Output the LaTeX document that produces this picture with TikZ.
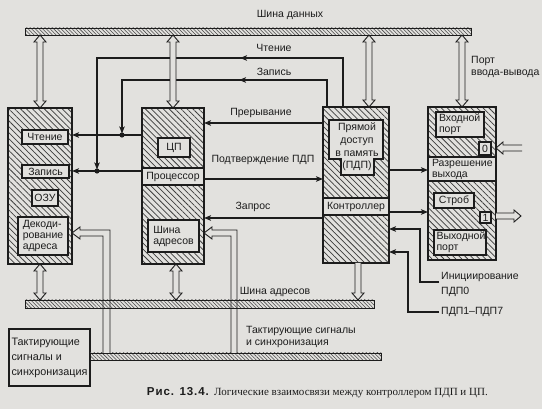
\documentclass[tikz,border=0pt]{standalone}
\usepackage{fontspec}
\setmainfont{Liberation Sans}
\newfontfamily\capserif{Liberation Serif}
\usetikzlibrary{arrows.meta,patterns.meta,calc,decorations.markings}
\definecolor{paper}{RGB}{226,225,222}
\definecolor{ink}{RGB}{28,28,28}
\newcommand\arwHW{6pt}
\newcommand\arwHL{7pt}
\newcommand\arwSW{3pt}
% double-headed vertical hollow arrow: #1 lower end, #2 upper end
\newcommand\hollowVV[2]{\filldraw[hollow] let \p1=(#1), \p2=(#2) in
  (\x1,\y2) -- (\x1+\arwHW,\y2-\arwHL) -- (\x1+\arwSW,\y2-\arwHL) -- (\x1+\arwSW,\y1+\arwHL)
  -- (\x1+\arwHW,\y1+\arwHL) -- (\x1,\y1) -- (\x1-\arwHW,\y1+\arwHL) -- (\x1-\arwSW,\y1+\arwHL)
  -- (\x1-\arwSW,\y2-\arwHL) -- (\x1-\arwHW,\y2-\arwHL) -- cycle;}
% single hollow arrow pointing down: #1 tail (upper), #2 tip (lower)
\newcommand\hollowDown[2]{\filldraw[hollow] let \p1=(#1), \p2=(#2) in
  (\x1-\arwSW,\y1) -- (\x1-\arwSW,\y2+\arwHL) -- (\x1-\arwHW,\y2+\arwHL) -- (\x1,\y2)
  -- (\x1+\arwHW,\y2+\arwHL) -- (\x1+\arwSW,\y2+\arwHL) -- (\x1+\arwSW,\y1);}
% single hollow arrow pointing left: #1 tail (right), #2 tip (left)
\newcommand\hollowLeft[2]{\filldraw[hollow] let \p1=(#1), \p2=(#2) in
  (\x1,\y1+\arwSW) -- (\x2+\arwHL,\y1+\arwSW) -- (\x2+\arwHL,\y1+\arwHW) -- (\x2,\y1)
  -- (\x2+\arwHL,\y1-\arwHW) -- (\x2+\arwHL,\y1-\arwSW) -- (\x1,\y1-\arwSW);}
% single hollow arrow pointing right: #1 tail (left), #2 tip (right)
\newcommand\hollowRight[2]{\filldraw[hollow] let \p1=(#1), \p2=(#2) in
  (\x1,\y1+\arwSW) -- (\x2-\arwHL,\y1+\arwSW) -- (\x2-\arwHL,\y1+\arwHW) -- (\x2,\y1)
  -- (\x2-\arwHL,\y1-\arwHW) -- (\x2-\arwHL,\y1-\arwSW) -- (\x1,\y1-\arwSW);}

\begin{document}
\begin{tikzpicture}[x=1pt,y=-1pt,
  lbl/.style={font=\fontsize{10.5}{12}\selectfont, text=ink, inner sep=0pt},
  blockarea/.style={anchor=north west, inner sep=0pt, outer sep=0pt,
    pattern={Lines[angle=-45,distance=4.2pt,line width=0.75pt]}, pattern color=ink!85},
  border/.style={draw=ink, line width=2.3pt},
  ibox/.style={anchor=north west, draw=ink, fill=paper, line width=1.1pt, inner sep=0pt,
    outer sep=0pt, font=\fontsize{10.5}{11}\selectfont, text=ink},
  bus/.style={anchor=north west, draw=ink, line width=0.9pt, inner sep=0pt, outer sep=0pt,
    pattern={Lines[angle=-45,distance=2.6pt,line width=0.55pt]}, pattern color=ink!80},
  conn/.style={draw=ink, line width=1.1pt},
  arr/.style={-{Stealth[length=7pt,width=5.5pt,inset=1.5pt]}},
  hollow/.style={draw=ink, fill=paper, line width=0.9pt, line join=miter},
  midarrow/.style={postaction={decorate}, decoration={markings,
    mark=at position #1 with {\arrow{Stealth[length=7pt,width=5.5pt,inset=1.5pt]}}}},
]
\path[use as bounding box, fill=paper] (0,0) rectangle (542,409);

% ---------- blocks (hatched areas) ----------
\node[blockarea, minimum width=64pt, minimum height=156pt] (mem) at (8,108) {};
\node[blockarea, minimum width=62pt, minimum height=156pt] (cpu) at (142,108) {};
\node[blockarea, minimum width=66pt, minimum height=156pt] (dma) at (323,107) {};
\node[blockarea, minimum width=68pt, minimum height=153pt] (io) at (428,107) {};

% memory contents
\node[ibox, minimum width=46pt, minimum height=14pt] (memRd) at (22,130) {Чтение};
\node[ibox, minimum width=47pt, minimum height=13pt] (memWr) at (22,165) {Запись};
\node[ibox, minimum width=26pt, minimum height=16pt] (ram) at (32,190) {ОЗУ};
\node[ibox, minimum width=50pt, minimum height=38pt, align=left] (dec) at (18,217) {Декоди-\\рование\\адреса};

% CPU contents
\node[ibox, minimum width=32pt, minimum height=19pt] (cp) at (158,138) {ЦП};
\node[ibox, minimum width=62pt, minimum height=17pt] (proc) at (142,168) {Процессор};
\node[ibox, minimum width=51pt, minimum height=32pt, align=left] (cpuAddr) at (148,220) {Шина\\адресов};

% DMA contents
\filldraw[draw=ink, fill=paper, line width=1.1pt] (329,120) -- (383,120) -- (383,159) -- (374,159)
  -- (374,175) -- (341,175) -- (341,159) -- (329,159) -- cycle;
\node[lbl, align=center, font=\fontsize{10.5}{12.7}\selectfont] (pdp) at (357,147) {Прямой\\доступ\\в память\\(ПДП)};
\node[ibox, minimum width=66pt, minimum height=17pt] (ctrl) at (323,198) {Контроллер};

% I/O port contents
\node[ibox, minimum width=48pt, minimum height=25pt, align=left, text width=42pt] (inPort) at (436,112) {Входной\\порт};
\node[ibox, minimum width=12pt, minimum height=13pt] (p0) at (479,142) {0};
\node[ibox, minimum width=68pt, minimum height=24pt, align=left, text width=60pt] (oe) at (428,157) {Разрешение\\выхода};
\node[ibox, minimum width=40pt, minimum height=15pt] (strobe) at (434,193) {Строб};
\node[ibox, minimum width=11pt, minimum height=11pt] (p1) at (480,212) {1};
\node[ibox, minimum width=52pt, minimum height=25pt, align=left, text width=47pt] (outPort) at (434,230) {Выходной\\порт};

% block borders
\draw[border] (mem.north west) rectangle (mem.south east);
\draw[border] (cpu.north west) rectangle (cpu.south east);
\draw[border] (dma.north west) rectangle (dma.south east);
\draw[border] (io.north west) rectangle (io.south east);

% clock generator
\node[anchor=north west, draw=ink, line width=2.3pt, fill=paper, minimum width=81pt,
  minimum height=57pt, inner sep=0pt, outer sep=0pt, align=left,
  font=\fontsize{10.8}{15}\selectfont, text=ink] (clk) at (9,329) {Тактирующие\\сигналы и\\синхронизация};

% ---------- labels ----------
\node[lbl] (lData) at (290,15) {Шина данных};
\node[lbl, align=left, anchor=west] (lPort) at (471,67) {Порт\\ввода-вывода};
\node[lbl] (lRd) at (274,48) {Чтение};
\node[lbl] (lWr) at (274,72) {Запись};
\node[lbl] (lInt) at (261,113) {Прерывание};
\node[lbl] (lAck) at (263,160) {Подтверждение ПДП};
\node[lbl] (lReq) at (253,207) {Запрос};
\node[lbl] (lAddr) at (275,292) {Шина адресов};
\node[lbl, align=left, anchor=west] (lClk) at (246,337) {Тактирующие сигналы\\и синхронизация};
\node[lbl, align=left, anchor=west, font=\fontsize{10.5}{14.5}\selectfont] (lIni) at (441,284.5) {Инициирование\\ПДП0};
\node[lbl, anchor=west] (lPdp) at (441,312) {ПДП1–ПДП7};

% ---------- control connectors ----------
\coordinate (dotW) at (97,171);
\coordinate (dotR) at (122,135);
\coordinate (rdUp) at (343,107);
\coordinate (wrUp) at (327,107);
\draw[conn, arr, shorten >=1.5pt, midarrow=152pt] (rdUp) |- (dotW |- 0,58) -- (dotW);
\draw[conn, arr, shorten >=1.5pt, midarrow=115pt] (wrUp) |- (dotR |- 0,80) -- (dotR);
\draw[conn, arr] (cpu.west |- dotR) -- (mem.east |- dotR);
\draw[conn, arr] (cpu.west |- dotW) -- (mem.east |- dotW);
\fill[ink] (dotW) circle (2.6pt);
\fill[ink] (dotR) circle (2.6pt);

\draw[conn, arr] (dma.west |- 0,123) -- (cpu.east |- 0,123);
\draw[conn, arr] (cpu.east |- 0,179) -- (dma.west |- 0,179);
\draw[conn, arr] (dma.west |- 0,218) -- (cpu.east |- 0,218);
\draw[conn, arr] (dma.east |- 0,170) -- (io.west |- 0,170);
\draw[conn, arr] (dma.east |- 0,212) -- (io.west |- 0,212);

\coordinate (iniEnd) at (439,282);
\coordinate (iniBend) at (420,229);
\coordinate (pdpEnd) at (439,312);
\coordinate (pdpBend) at (408,252);
\draw[conn, arr] (iniEnd) -| (iniBend) -- (dma.east |- iniBend);
\draw[conn, arr] (pdpEnd) -| (pdpBend) -- (dma.east |- pdpBend);

% clock lines into decoder and CPU address bus (hollow elbows)
\node[bus, minimum width=291pt, minimum height=7pt] (cbus) at (90,353) {};
\filldraw[hollow] (cbus.north -| 110,0) -- (110,230) -- (80,230) -- (80,227) -- (mem.east |- 0,233)
  -- (80,239) -- (80,236) -- (103,236) -- (cbus.north -| 103,0);
\filldraw[hollow] (cbus.north -| 237,0) -- (237,230) -- (212,230) -- (212,227) -- (cpu.east |- 0,233)
  -- (212,239) -- (212,236) -- (231,236) -- (cbus.north -| 231,0);

% ---------- buses ----------
\node[bus, minimum width=446pt, minimum height=7pt] (databus) at (25,28) {};
\node[bus, minimum width=349pt, minimum height=8pt] (abus) at (25,300) {};

% ---------- hollow bus arrows ----------
\coordinate (dmaD) at (369,107);
\coordinate (cpuA) at (176,264);
\coordinate (dmaA) at (358,263);
\coordinate (inTail) at (522,148);
\coordinate (outTip) at (521,216);
\hollowVV{mem.north}{mem.north |- databus.south}
\hollowVV{cpu.north}{cpu.north |- databus.south}
\hollowVV{dmaD}{dmaD |- databus.south}
\hollowVV{io.north}{io.north |- databus.south}
\hollowVV{mem.south |- abus.north}{mem.south}
\hollowVV{cpuA |- abus.north}{cpuA}
\hollowDown{dmaA}{dmaA |- abus.north}
\hollowLeft{inTail}{io.east |- inTail}
\hollowRight{io.east |- outTip}{outTip}

% ---------- caption ----------
\node[font=\fontsize{11.5}{13}\bfseries\addfontfeature{LetterSpace=8}, text=ink, anchor=base east, inner sep=0pt] (capA) at (209,396) {Рис. 13.4.};
\node[font=\capserif\fontsize{11}{13}\selectfont, text=ink, anchor=base west, inner sep=0pt] (capB) at (214,396) {Логические взаимосвязи между контроллером ПДП и ЦП.};
\end{tikzpicture}
\end{document}
